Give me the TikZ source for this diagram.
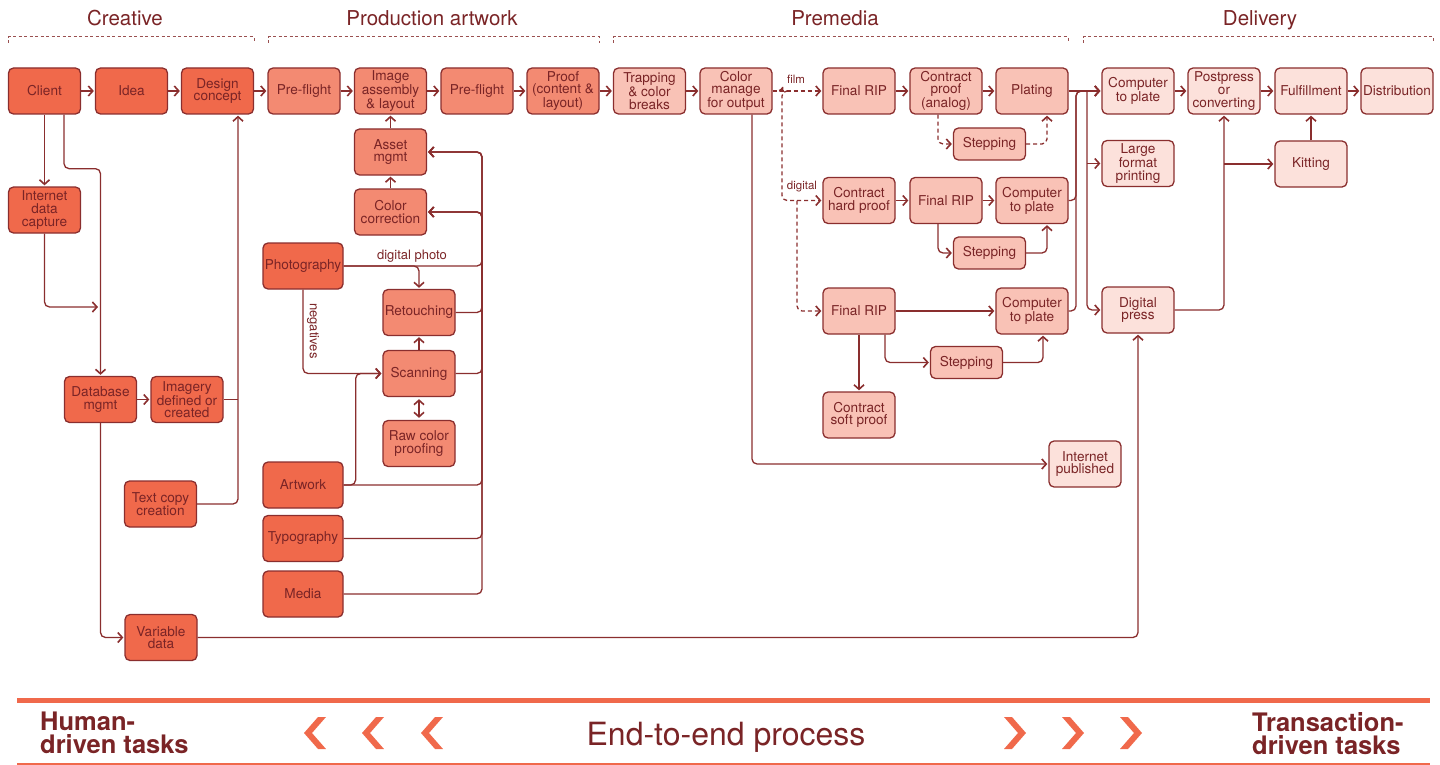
\documentclass[tikz,border=0pt]{standalone}
\usepackage{fontspec}
\setmainfont{TeX Gyre Heros}
\usetikzlibrary{arrows.meta,calc}
\definecolor{cre}{HTML}{F0694B}
\definecolor{prd}{HTML}{F38A72}
\definecolor{pre}{HTML}{F9C2B6}
\definecolor{dlv}{HTML}{FCE1DB}
\definecolor{txt}{HTML}{7A2426}
\definecolor{lnc}{HTML}{8A2E2E}
\definecolor{brkc}{HTML}{9A5050}
\definecolor{org}{HTML}{F0694B}
\begin{document}
\begin{tikzpicture}[x=1pt,y=-1pt,
  box/.style={draw=lnc, line width=1.3pt, rounded corners=5pt, minimum width=72pt, minimum height=46pt,
    inner sep=0pt, align=center, text=txt, font=\fontsize{13.6}{12.6}\selectfont},
  cbox/.style={box, fill=cre}, pbox/.style={box, fill=prd},
  mbox/.style={box, fill=pre}, dbox/.style={box, fill=dlv},
  wide/.style={minimum width=80pt}, short/.style={minimum height=32pt},
  ln/.style={draw=lnc, line width=1.3pt, rounded corners=5pt},
  arr/.style={ln, -{Straight Barb[length=4.5pt,width=10pt,line width=1.6pt]}, shorten >=1pt},
  darr/.style={arr, dash pattern=on 4pt off 3pt},
  dbl/.style={ln, {Straight Barb[length=4.5pt,width=10pt,line width=1.6pt]}-{Straight Barb[length=4.5pt,width=10pt,line width=1.6pt]}, shorten >=2pt, shorten <=2pt},
  lbl/.style={text=txt, font=\fontsize{11.5}{12}\selectfont, inner sep=0pt},
  hdr/.style={text=txt, font=\fontsize{20.5}{21}\selectfont, inner sep=0pt, anchor=base},
  brk/.style={draw=brkc, line width=1pt, dash pattern=on 3pt off 2.5pt},
  big/.style={text=txt, inner sep=0pt, align=left, font=\fontsize{25.5}{23}\selectfont\bfseries}
]
\useasboundingbox (0,0) rectangle (1440,765);

% headers
\node[hdr] (hcre) at (125,26) {Creative};
\node[hdr] (hprd) at (432,26) {Production artwork};
\node[hdr] (hpre) at (835,26) {Premedia};
\node[hdr] (hdlv) at (1260,26) {Delivery};
\draw[brk] (8,43) -- (8,37) -- (254,37) -- (254,43);
\draw[brk] (268,43) -- (268,37) -- (599,37) -- (599,43);
\draw[brk] (613,43) -- (613,37) -- (1068,37) -- (1068,43);
\draw[brk] (1083,43) -- (1083,37) -- (1433,37) -- (1433,43);

% creative
\node[cbox] (client) at (44.5,91) {Client};
\node[cbox] (idea) at (131.5,91) {Idea};
\node[cbox] (design) at (217.5,91) {Design\\concept};
\node[cbox] (idc) at (44.5,210) {Internet\\data\\capture};
\node[cbox] (db) at (100.5,399.5) {Database\\mgmt};
\node[cbox] (imagery) at (187,399.5) {Imagery\\defined or\\created};
\node[cbox] (textcopy) at (160.5,504) {Text copy\\creation};
\node[cbox] (variable) at (161,637.5) {Variable\\data};

% production artwork
\node[pbox] (pf1) at (304,91) {Pre-flight};
\node[pbox] (img) at (390.5,91) {Image\\assembly\\\& layout};
\node[pbox] (pf2) at (477,91) {Pre-flight};
\node[pbox] (proof) at (563,91) {Proof\\(content \&\\layout)};
\node[pbox] (asset) at (390.5,152) {Asset\\mgmt};
\node[pbox] (colcor) at (390.5,212) {Color\\correction};
\node[cbox,wide] (photo) at (303,266) {Photography};
\node[pbox] (retouch) at (419,312.5) {Retouching};
\node[pbox] (scan) at (419,373.5) {Scanning};
\node[pbox] (raw) at (419,443.5) {Raw color\\proofing};
\node[cbox,wide] (artwork) at (303,485) {Artwork};
\node[cbox,wide] (typo) at (303,538.5) {Typography};
\node[cbox,wide] (media) at (303,594) {Media};

% premedia
\node[mbox] (trap) at (649.5,91) {Trapping\\\& color\\breaks};
\node[mbox] (colman) at (736,91) {Color\\manage\\for output};
\node[mbox] (rip1) at (859,91) {Final RIP};
\node[mbox] (cproof) at (946,91) {Contract\\proof\\(analog)};
\node[mbox] (plating) at (1032,91) {Plating};
\node[mbox,short] (step1) at (989.5,144) {Stepping};
\node[mbox] (chp) at (859,200.5) {Contract\\hard proof};
\node[mbox] (rip2) at (946,200.5) {Final RIP};
\node[mbox] (ctp2) at (1032,200.5) {Computer\\to plate};
\node[mbox,short] (step2) at (989.5,253) {Stepping};
\node[mbox] (rip3) at (859,311) {Final RIP};
\node[mbox] (ctp3) at (1032,311) {Computer\\to plate};
\node[mbox,short] (step3) at (966.5,362.5) {Stepping};
\node[mbox] (soft) at (859,415) {Contract\\soft proof};

% delivery
\node[dbox] (ctp) at (1138,91) {Computer\\to plate};
\node[dbox] (post) at (1224,91) {Postpress\\or\\converting};
\node[dbox] (fulfil) at (1311,91) {Fulfillment};
\node[dbox] (dist) at (1397,91) {Distribution};
\node[dbox] (large) at (1138,163.5) {Large\\format\\printing};
\node[dbox] (digpress) at (1138,310) {Digital\\press};
\node[dbox] (kitting) at (1311,164) {Kitting};
\node[dbox] (netpub) at (1085,464) {Internet\\published};

% helper coordinates
\coordinate (dsx) at ([xshift=20.5pt]design.south);
\coordinate (j1) at (100.5,307);
\coordinate (busP) at (482,0);
\coordinate (dx1) at (782,0);
\coordinate (dx2) at (797,0);
\coordinate (bA) at (1076,0);
\coordinate (bB) at (1087,0);

% main row
\draw[arr] (client) -- (idea);
\draw[arr] (idea) -- (design);
\draw[arr] (design) -- (pf1);
\draw[arr] (pf1) -- (img);
\draw[arr] (img) -- (pf2);
\draw[arr] (pf2) -- (proof);
\draw[arr] (proof) -- (trap);
\draw[arr] (trap) -- (colman);

% creative connectors
\draw[arr] (client.south) -- (idc.north);
\draw[arr] ([xshift=19.5pt]client.south) -- ++(0,54) -| (db.north);
\draw[arr, shorten >=2.5pt] (idc.south) |- (j1);
\draw[arr] (db) -- (imagery);
\draw[arr] (textcopy.east) -| (dsx);
\draw[ln] (imagery.east) -- (imagery.east -| dsx);
\draw[arr] (db.south) |- (variable.west);
\draw[arr] (variable.east) -| (digpress.south);

% production connectors
\draw[arr] (asset) -- (img);
\draw[arr] (colcor) -- (asset);
\draw[arr] (media.east) -| (busP |- asset.east) -- (asset.east);
\draw[arr] (typo.east) -| (busP |- asset.east) -- (asset.east);
\draw[arr] (artwork.east) -| (busP |- asset.east) -- (asset.east);
\draw[arr] (scan.east) -| (busP |- colcor.east) -- (colcor.east);
\draw[arr] (retouch.east) -| (busP |- colcor.east) -- (colcor.east);
\draw[arr] (photo.east) -| (busP |- colcor.east) -- (colcor.east);
\draw[arr] (photo.east) -| (retouch.north);
\node[lbl, font=\fontsize{13}{13}\selectfont] (ldp) at (412,256) {digital photo};
\draw[arr] (photo.south) |- (scan.west);
\node[lbl, font=\fontsize{13}{13}\selectfont, rotate=-90] (lneg) at (313,331) {negatives};
\draw[arr] (artwork.east) -- ++(12,0) |- (scan.west);
\draw[arr] (scan) -- (retouch);
\draw[dbl] (scan) -- (raw);

% premedia connectors
\draw[darr] (colman.east) -- (rip1.west);
\node[lbl] (lfilm) at (796,79) {film};
\draw[darr] ([xshift=10pt]colman.east) -- ++(0,0) -| (dx1 |- chp.west) -- (chp.west);
\node[lbl] (ldig) at (802,187) {digital};
\draw[darr] (dx2 |- chp.west) |- (rip3.west);
\draw[arr] ([xshift=16pt]colman.south) |- (netpub.west);
\draw[arr] (rip1) -- (cproof);
\draw[arr] (cproof) -- (plating);
\draw[darr] ([xshift=-8pt]cproof.south) |- (step1.west);
\draw[darr] (step1.east) -| ([xshift=15pt]plating.south);
\draw[arr] (chp) -- (rip2);
\draw[arr] (rip2) -- (ctp2);
\draw[arr] ([xshift=-8pt]rip2.south) |- (step2.west);
\draw[arr] (step2.east) -| ([xshift=15pt]ctp2.south);
\draw[arr] (rip3) -- (ctp3);
\draw[arr] (rip3) -- (soft);
\draw[arr] ([xshift=26pt]rip3.south) |- (step3.west);
\draw[arr] (step3.east) -| ([xshift=11pt]ctp3.south);

% to delivery
\draw[arr] (plating.east) -- (ctp.west);
\draw[arr] (ctp2.east) -| (bA |- ctp.west) -- (ctp.west);
\draw[arr] (ctp3.east) -| (bA |- ctp.west) -- (ctp.west);
\draw[arr] (bB |- ctp.west) |- (digpress.west);
\draw[arr] (bB |- large.west) -- (large.west);

% delivery connectors
\draw[arr] (ctp) -- (post);
\draw[arr] (post) -- (fulfil);
\draw[arr] (fulfil) -- (dist);
\draw[arr] (digpress.east) -| (post.south);
\draw[arr] (post.south |- kitting.west) -- (kitting.west);
\draw[arr] (kitting) -- (fulfil);

% bottom band
\fill[org] (17,697.5) rectangle (1430,702.5);
\draw[org, line width=1.2pt] (17,764) -- (1430,764);
\foreach \cx in {315,373,432} {
  \fill[org] (\cx+3,717) -- (\cx+11,717) -- (\cx-3,733) -- (\cx+11,749) -- (\cx+3,749) -- (\cx-11,733) -- cycle;
}
\foreach \cx in {1015,1073,1131} {
  \fill[org] (\cx-3,717) -- (\cx-11,717) -- (\cx+3,733) -- (\cx-11,749) -- (\cx-3,749) -- (\cx+11,733) -- cycle;
}
\node[big, anchor=north west] (human) at (40,712) {Human-\\driven tasks};
\node[big, anchor=north west] (trans) at (1252,712) {Transaction-\\driven tasks};
\node[text=txt, inner sep=0pt, anchor=base, font=\fontsize{32}{32}\selectfont] (e2e) at (726,745) {End-to-end process};
\end{tikzpicture}
\end{document}
